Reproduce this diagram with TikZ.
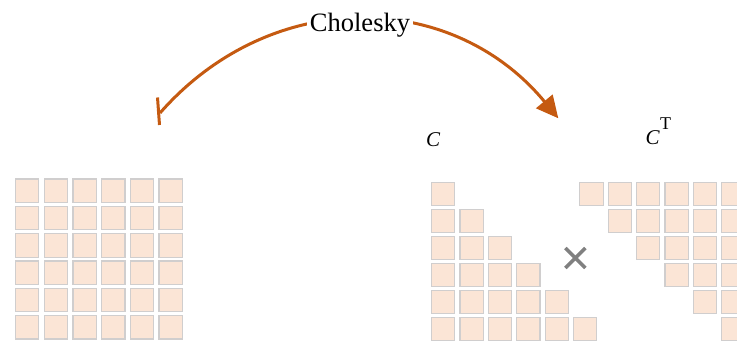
\documentclass[tikz,border=0pt]{standalone}
\usepackage{fontspec}
\setmainfont{Liberation Serif}
\usetikzlibrary{arrows.meta,shapes.misc}
\definecolor{arcorange}{HTML}{C55A11}
\definecolor{cellfill}{HTML}{FBE5D6}
\definecolor{celledge}{HTML}{D0CECE}
\definecolor{crossgray}{HTML}{808080}
\tikzset{
  cell/.style={draw=celledge, fill=cellfill, line width=1.2pt,
    minimum width=23.3pt, minimum height=23.5pt, inner sep=0pt},
  flow/.style={draw=arcorange, line width=3pt},
  matlabel/.style={font=\fontsize{21}{21}\selectfont\itshape, inner sep=0pt, anchor=base west},
}
\begin{document}
\begin{tikzpicture}[x=1pt,y=1pt]
\useasboundingbox (0,0) rectangle (737,-344);

% full 6x6 matrix
\foreach \j in {0,...,5}{\foreach \i in {0,...,5}{
  \node[cell] (a-\j-\i) at ({27.2+28.7*\i},{-(190.8+27.3*\j)}) {};
}}
% lower triangular factor
\foreach \j in {0,...,5}{\foreach \i in {0,...,\j}{
  \node[cell] (l-\j-\i) at ({443.2+28.4*\i},{-(194+27*\j)}) {};
}}
% upper triangular factor (transpose)
\foreach \j in {0,...,5}{\foreach \i in {\j,...,5}{
  \node[cell] (u-\j-\i) at ({591.5+28.35*\i},{-(194+27*\j)}) {};
}}

% multiplication sign
\node[cross out, draw=crossgray, line width=3.5pt, minimum size=16.5pt, inner sep=0pt] (times) at (575.3,-258) {};

% factor labels
\node[matlabel] (cmat) at (426,-147) {C};
\node[matlabel] (ctmat) at (645.5,-144.5) {C\kern0.5pt\raisebox{14.5pt}{\fontsize{18}{18}\selectfont\upshape T}};

% decomposition arc
\coordinate (src) at (160,-113);
\coordinate (dst) at (558.3,-118.3);
\draw[flow, -{Triangle[length=22pt,width=21pt]}] (src) .. controls +(48.7:168) and +(129.6:168) .. (dst);
\draw[flow] ([shift={(-2.5,15.5)}]src) -- ([shift={(-0.5,-12)}]src);
\node[fill=white, inner xsep=2.5pt, inner ysep=0pt, anchor=base,
  font=\fontsize{26.5}{26.5}\selectfont] (chol) at (360,-31.5) {Cholesky};
\end{tikzpicture}
\end{document}
